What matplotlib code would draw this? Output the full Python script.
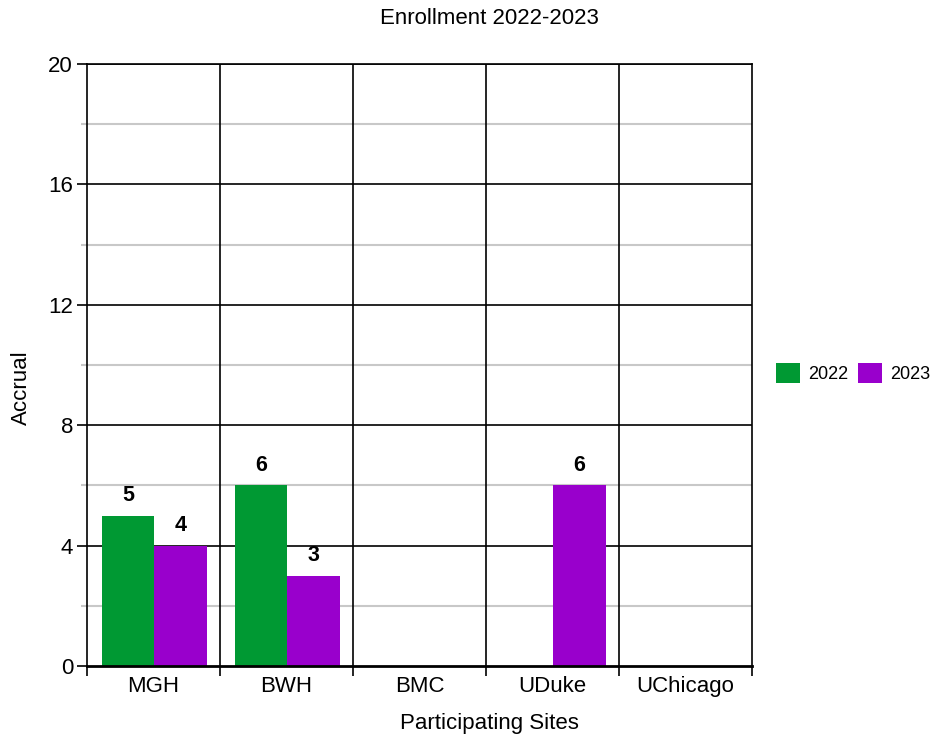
import matplotlib
matplotlib.use("Agg")
import matplotlib.pyplot as plt
import numpy as np
from matplotlib.patches import Patch

plt.rcParams['font.family'] = ['Liberation Sans', 'DejaVu Sans']

sites = ["MGH", "BWH", "BMC", "UDuke", "UChicago"]
vals_2022 = [5, 6, 0, 0, 0]
vals_2023 = [4, 3, 0, 6, 0]
series_names = ["2022", "2023"]
colors = ["#009933", "#9900cc"]

W, H = 932, 740
fig = plt.figure(figsize=(W/100, H/100), dpi=100)
ax = fig.add_axes([87/W, 1-666/H, (752-87)/W, (666-64)/H])

n = len(sites)
x = np.arange(n)
w = 0.395

ax.set_xlim(-0.5, n-0.5)
ax.set_ylim(0, 20)

# grid
for yv in np.arange(2, 20, 4):
    ax.axhline(yv, color="#c8c8c8", lw=1.5, zorder=1)
for yv in np.arange(4, 21, 4):
    ax.axhline(yv, color="black", lw=1.2, zorder=1)
for xv in np.arange(0.5, n-0.5, 1):
    ax.axvline(xv, color="black", lw=1.2, zorder=1)

for i, (vals, c) in enumerate(zip([vals_2022, vals_2023], colors)):
    pos = x + (i - 0.5) * w + 0.005
    ax.bar(pos, vals, width=w, color=c, zorder=2, label=series_names[i])
    for xp, v in zip(pos, vals):
        if v > 0:
            ax.text(xp, v + 0.32, str(v), ha="center", va="bottom",
                    fontsize=15.5, fontweight="bold", zorder=3)

ax.set_yticks(np.arange(0, 21, 4))
ax.set_yticks(np.arange(2, 20, 4), minor=True)
ax.tick_params(axis="y", which="major", length=7, width=1.2, color="black",
               labelsize=16, pad=3)
ax.tick_params(axis="y", which="minor", length=4, width=1.5, color="#c8c8c8")

ax.set_xticks(np.arange(-0.5, n, 1))
ax.set_xticklabels([""] * (n+1))
ax.set_xticks(x, minor=True)
ax.set_xticklabels(sites, minor=True)
ax.tick_params(axis="x", which="major", length=7, width=1.2, color="black")
ax.tick_params(axis="x", which="minor", length=0, labelsize=16, pad=7)

for s in ["left", "right", "top"]:
    ax.spines[s].set_linewidth(1.2)
ax.spines["bottom"].set_linewidth(2)

fig.text(489.5/W, 1-19/H, "Enrollment 2022-2023", fontsize=16,
         ha="center", va="center")
fig.text(489/W, 1-724/H, "Participating Sites", fontsize=16,
         ha="center", va="center")
fig.text(21/W, 1-388/H, "Accrual", fontsize=16, rotation=90,
         ha="center", va="center")

handles = [Patch(facecolor=c, edgecolor="none") for c in colors]
fig.legend(handles, series_names, loc="center left",
           bbox_to_anchor=(776/W, 1-373/H), ncol=2, frameon=False,
           fontsize=13, handlelength=1.33, handleheight=1.33, handletextpad=0.45,
           columnspacing=0.55, borderpad=0, borderaxespad=0)

fig.savefig("out.png", dpi=100)
